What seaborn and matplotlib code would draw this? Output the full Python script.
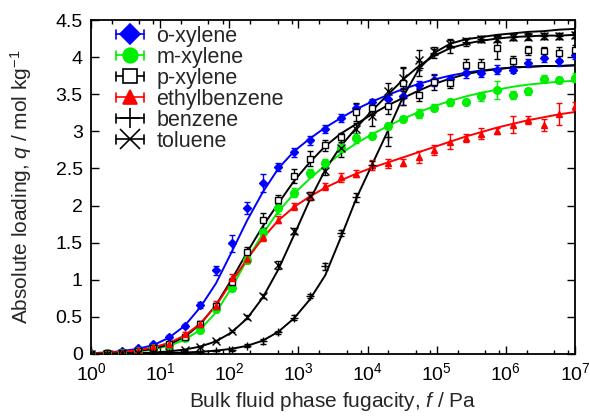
import matplotlib
matplotlib.use("Agg")
import matplotlib.pyplot as plt
import seaborn as sns
from matplotlib.lines import Line2D
from matplotlib.legend_handler import HandlerBase
from matplotlib.ticker import LogLocator, FuncFormatter, NullFormatter

# ---------------- data ----------------
fugacity = [1, 1.682, 2.829, 4.758, 8.003, 13.46, 22.64, 38.08, 64.05, 107.7,
            181.2, 304.8, 512.6, 862.2, 1450, 2439, 4103, 6900, 11600, 19520,
            32830, 55220, 92880, 156200, 262700, 441900, 743200, 1250000,
            2102000, 3536000, 5947000, 10000000]

species = ["o-xylene", "m-xylene", "p-xylene", "ethylbenzene", "benzene", "toluene"]

# simulated loadings (points)
oxylene_q = [0.01, 0.02, 0.04, 0.077, 0.13, 0.23, 0.38, 0.66, 1.13, 1.49, 1.97, 2.30, 2.52, 2.72, 2.88, 3.03,
             3.18, 3.32, 3.39, 3.43, 3.47, 3.63, 3.69, 3.70, 3.78, 3.78, 3.83, 3.83, 3.92, 3.99, 3.95, 4.03]
mxylene_q = [0.005, 0.01, 0.02, 0.04, 0.077, 0.12, 0.21, 0.33, 0.61, 0.89, 1.27, 1.64, 1.97, 2.17, 2.44, 2.57,
             2.78, 2.91, 2.94, 3.07, 3.16, 3.24, 3.32, 3.39, 3.39, 3.47, 3.56, 3.49, 3.54, 3.71, 3.69, 3.72]
pxylene_q = [0.005, 0.01, 0.02, 0.04, 0.08, 0.14, 0.23, 0.40, 0.64, 0.97, 1.37, 1.80, 2.08, 2.40, 2.63, 2.81,
             2.92, 3.26, 3.32, 3.34, 3.65, 3.49, 3.66, 3.65, 3.89, 3.89, 4.12, 3.95, 4.09, 4.08, 4.05, 4.09]
ethylbenzene_q = [0.01, 0.02, 0.03, 0.06, 0.10, 0.14, 0.27, 0.41, 0.65, 1.02, 1.28, 1.58, 1.81, 1.99, 2.13, 2.26,
                  2.38, 2.43, 2.55, 2.57, 2.58, 2.65, 2.75, 2.86, 2.91, 2.97, 3.01, 3.09, 3.15, 3.09, 3.23, 3.34]
benzene_q = [0.0, 0.002, 0.004, 0.006, 0.01, 0.013, 0.02, 0.03, 0.045, 0.06, 0.11, 0.17, 0.29, 0.49, 0.78, 1.18,
             1.63, 2.11, 2.55, 2.93, 3.45, 3.85, 4.05, 4.15, 4.20, 4.24, 4.26, 4.27, 4.28, 4.29, 4.29, 4.30]
toluene_q = [0.002, 0.004, 0.007, 0.012, 0.02, 0.03, 0.05, 0.10, 0.175, 0.31, 0.50, 0.78, 1.20, 1.66, 2.13, 2.47,
             2.78, 3.03, 3.20, 3.54, 3.72, 3.96, 4.08, 4.18, 4.22, 4.24, 4.25, 4.27, 4.27, 4.29, 4.29, 4.30]

# error bars (half-heights)
oxylene_err = [0.005, 0.005, 0.01, 0.01, 0.015, 0.02, 0.03, 0.04, 0.06, 0.12, 0.08, 0.12, 0.06, 0.06, 0.06, 0.05,
               0.05, 0.05, 0.04, 0.06, 0.12, 0.05, 0.08, 0.05, 0.06, 0.05, 0.06, 0.05, 0.05, 0.06, 0.07, 0.05]
mxylene_err = [0.005, 0.005, 0.01, 0.01, 0.015, 0.02, 0.02, 0.03, 0.04, 0.04, 0.05, 0.06, 0.08, 0.06, 0.05, 0.06,
               0.06, 0.07, 0.05, 0.04, 0.04, 0.06, 0.05, 0.05, 0.04, 0.06, 0.12, 0.05, 0.05, 0.05, 0.04, 0.06]
pxylene_err = [0.005, 0.005, 0.01, 0.01, 0.015, 0.02, 0.03, 0.04, 0.05, 0.06, 0.07, 0.10, 0.06, 0.09, 0.10, 0.07,
               0.06, 0.12, 0.10, 0.10, 0.20, 0.08, 0.10, 0.07, 0.08, 0.08, 0.15, 0.07, 0.06, 0.06, 0.08, 0.07]
ethylbenzene_err = [0.005, 0.005, 0.01, 0.01, 0.015, 0.02, 0.03, 0.04, 0.06, 0.06, 0.05, 0.06, 0.05, 0.05, 0.05, 0.05,
                    0.06, 0.05, 0.07, 0.06, 0.05, 0.08, 0.07, 0.10, 0.06, 0.07, 0.04, 0.11, 0.05, 0.08, 0.15, 0.05]
benzene_err = [0.003, 0.003, 0.005, 0.005, 0.005, 0.005, 0.01, 0.01, 0.01, 0.02, 0.02, 0.03, 0.02, 0.03, 0.03, 0.05,
               0.04, 0.06, 0.05, 0.13, 0.10, 0.10, 0.06, 0.10, 0.05, 0.04, 0.04, 0.04, 0.04, 0.04, 0.04, 0.04]
toluene_err = [0.003, 0.003, 0.005, 0.005, 0.005, 0.005, 0.01, 0.01, 0.02, 0.02, 0.03, 0.03, 0.05, 0.04, 0.05, 0.06,
               0.12, 0.08, 0.13, 0.11, 0.15, 0.13, 0.05, 0.05, 0.04, 0.04, 0.04, 0.04, 0.04, 0.04, 0.04, 0.04]

# fitted isotherm curves, read at the same fugacities
oxylene_fit = [0.01, 0.02, 0.04, 0.07, 0.12, 0.22, 0.38, 0.63, 0.95, 1.37, 1.80, 2.18, 2.50, 2.73, 2.90, 3.05,
               3.18, 3.30, 3.40, 3.49, 3.57, 3.64, 3.70, 3.75, 3.79, 3.82, 3.84, 3.86, 3.87, 3.88, 3.88, 3.89]
mxylene_fit = [0.005, 0.01, 0.02, 0.035, 0.065, 0.11, 0.19, 0.33, 0.56, 0.89, 1.27, 1.62, 1.92, 2.16, 2.36, 2.54,
               2.70, 2.84, 2.96, 3.07, 3.17, 3.26, 3.34, 3.41, 3.47, 3.52, 3.56, 3.60, 3.63, 3.65, 3.67, 3.68]
pxylene_fit = [0.005, 0.01, 0.02, 0.04, 0.07, 0.13, 0.23, 0.40, 0.66, 1.00, 1.37, 1.72, 2.03, 2.33, 2.58, 2.80,
               2.97, 3.10, 3.23, 3.35, 3.45, 3.55, 3.64, 3.71, 3.77, 3.81, 3.84, 3.86, 3.87, 3.88, 3.88, 3.89]
ethylbenzene_fit = [0.01, 0.02, 0.03, 0.05, 0.09, 0.15, 0.25, 0.41, 0.65, 0.97, 1.28, 1.56, 1.80, 1.98, 2.12, 2.24,
                    2.34, 2.43, 2.51, 2.58, 2.65, 2.72, 2.79, 2.86, 2.93, 2.99, 3.05, 3.10, 3.15, 3.19, 3.23, 3.26]
benzene_fit = [0.001, 0.002, 0.003, 0.005, 0.008, 0.013, 0.02, 0.03, 0.045, 0.07, 0.11, 0.18, 0.30, 0.48, 0.73, 1.06,
               1.57, 2.10, 2.55, 3.00, 3.47, 3.84, 4.06, 4.18, 4.24, 4.27, 4.30, 4.32, 4.34, 4.35, 4.37, 4.38]
toluene_fit = [0.002, 0.004, 0.007, 0.012, 0.02, 0.035, 0.06, 0.10, 0.17, 0.29, 0.48, 0.76, 1.14, 1.60, 2.07, 2.48,
               2.80, 3.05, 3.28, 3.49, 3.70, 3.88, 4.02, 4.12, 4.18, 4.22, 4.25, 4.27, 4.28, 4.29, 4.29, 4.30]

x_ticks = [1e0, 1e1, 1e2, 1e3, 1e4, 1e5, 1e6, 1e7]
y_ticks = [0, 0.5, 1, 1.5, 2, 2.5, 3, 3.5, 4, 4.5]

points = dict(zip(species, [oxylene_q, mxylene_q, pxylene_q, ethylbenzene_q, benzene_q, toluene_q]))
errors = dict(zip(species, [oxylene_err, mxylene_err, pxylene_err, ethylbenzene_err, benzene_err, toluene_err]))
fits = dict(zip(species, [oxylene_fit, mxylene_fit, pxylene_fit, ethylbenzene_fit, benzene_fit, toluene_fit]))

# ---------------- styles ----------------
styles = {
    "o-xylene":     dict(color="#0000ff", marker="D", ms=4.0, mfc="#0000ff", lms=10.5),
    "m-xylene":     dict(color="#00ee00", marker="o", ms=5.5, mfc="#00ee00", lms=10.5),
    "p-xylene":     dict(color="#000000", marker="s", ms=5.0, mfc="white", lms=9.5),
    "ethylbenzene": dict(color="#ff0000", marker="^", ms=4.5, mfc="#ff0000", lms=10.5),
    "benzene":      dict(color="#000000", marker="+", ms=6.0, mfc="#000000", lms=14),
    "toluene":      dict(color="#000000", marker="x", ms=6.0, mfc="#000000", lms=14),
}

sns.set_theme(style="ticks")
plt.rcParams["font.family"] = ["Liberation Sans", "DejaVu Sans"]
plt.rcParams["mathtext.fontset"] = "custom"
plt.rcParams["mathtext.rm"] = "Liberation Sans"
plt.rcParams["mathtext.it"] = "Liberation Sans:italic"
plt.rcParams["mathtext.bf"] = "Liberation Sans:bold"
plt.rcParams["mathtext.default"] = "regular"

fig = plt.figure(figsize=(5.9, 4.16), dpi=100)
ax = fig.add_axes([91 / 590, 1 - 354 / 416, (575 - 91) / 590, (354 - 20) / 416])

for name in species:
    st = styles[name]
    sns.lineplot(x=fugacity, y=fits[name], color=st["color"], lw=1.4, ax=ax,
                 errorbar=None, sort=False, legend=False, zorder=2)
    ax.errorbar(fugacity, points[name], yerr=errors[name], fmt=st["marker"], color=st["color"],
                ms=st["ms"], mfc=st["mfc"], mec=st["color"], mew=1.0,
                elinewidth=1.0, capsize=2.2, capthick=1.0, ls="none", zorder=3)

ax.set_xscale("log")
ax.set_xlim(1, 1e7)
ax.set_ylim(0, 4.5)
ax.set_xticks(x_ticks)
ax.xaxis.set_minor_locator(LogLocator(base=10, subs=[2, 5, 8], numticks=30))
ax.xaxis.set_minor_formatter(NullFormatter())
ax.set_yticks(y_ticks)
ax.yaxis.set_major_formatter(FuncFormatter(lambda v, p: f"{v:g}"))

ax.tick_params(which="both", direction="in", top=True, right=True, colors="black",
               labelsize=14, width=1.0)
ax.tick_params(which="major", length=5.5, pad=6)
ax.tick_params(which="minor", length=3)
for sp in ax.spines.values():
    sp.set_linewidth(1.3)
    sp.set_color("black")

ax.set_xlabel(r"Bulk fluid phase fugacity, $\mathit{f}$ / Pa", fontsize=15)
ax.set_ylabel(r"Absolute loading, $\mathit{q}$ / mol kg$^{-1}$", fontsize=15)
ax.xaxis.set_label_coords(0.5, -0.108)
ax.yaxis.set_label_coords(-0.117, 0.5)


class GnuKey(HandlerBase):
    def create_artists(self, legend, orig, xd, yd, width, height, fontsize, trans):
        y = height / 2 - yd
        x0, x1 = -xd, width - xd
        c = orig.get_color()
        cap = 3.0
        arts = [
            Line2D([x0, x1], [y, y], color=c, lw=1.2),
            Line2D([x0, x0], [y - cap, y + cap], color=c, lw=1.2),
            Line2D([x1, x1], [y - cap, y + cap], color=c, lw=1.2),
            Line2D([(x0 + x1) / 2], [y], marker=orig.get_marker(), ms=orig.get_markersize(),
                   mfc=orig.get_markerfacecolor(), mec=c, mew=1.2, ls="none"),
        ]
        for a in arts:
            a.set_transform(trans)
        return arts


handles = []
for name in species:
    st = styles[name]
    handles.append(Line2D([], [], color=st["color"], marker=st["marker"], ms=st["lms"], mfc=st["mfc"]))

ax.legend(handles, species, handler_map={Line2D: GnuKey()}, loc="upper left",
          bbox_to_anchor=(0.051, 0.982), frameon=False, fontsize=15.5, borderpad=0,
          borderaxespad=0, handlelength=1.3, handletextpad=0.6, labelspacing=0.0,
          handleheight=0.7)

fig.savefig("out.png", dpi=100)
